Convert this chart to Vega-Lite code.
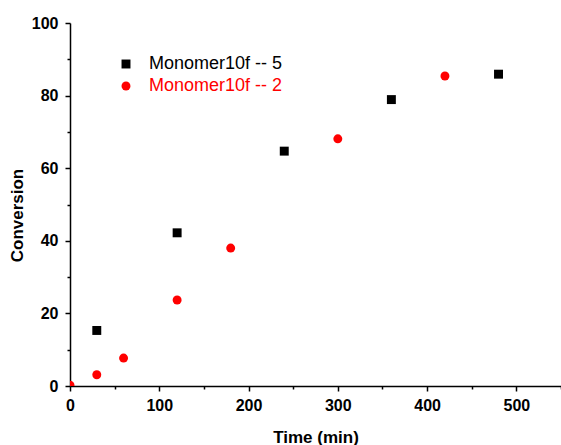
{
  "$schema": "https://vega.github.io/schema/vega-lite/v6.json",
  "width": 491,
  "height": 363,
  "autosize": "none",
  "padding": {"left": 70, "top": 23, "right": 0, "bottom": 59},
  "background": "white",
  "config": {"view": {"stroke": null}, "font": "Liberation Sans"},
  "data": {
    "values": [
      {"time": 30, "conversion": 15.3, "series": "Monomer10f -- 5"},
      {"time": 120, "conversion": 42.2, "series": "Monomer10f -- 5"},
      {"time": 240, "conversion": 64.7, "series": "Monomer10f -- 5"},
      {"time": 360, "conversion": 78.9, "series": "Monomer10f -- 5"},
      {"time": 480, "conversion": 85.9, "series": "Monomer10f -- 5"},
      {"time": 0, "conversion": 0.2, "series": "Monomer10f -- 2"},
      {"time": 30, "conversion": 3.1, "series": "Monomer10f -- 2"},
      {"time": 60, "conversion": 7.7, "series": "Monomer10f -- 2"},
      {"time": 120, "conversion": 23.7, "series": "Monomer10f -- 2"},
      {"time": 180, "conversion": 38.0, "series": "Monomer10f -- 2"},
      {"time": 300, "conversion": 68.1, "series": "Monomer10f -- 2"},
      {"time": 420, "conversion": 85.4, "series": "Monomer10f -- 2"}
    ]
  },
  "mark": {"type": "point", "filled": true, "opacity": 1, "size": 80, "clip": true},
  "encoding": {
    "x": {
      "field": "time", "type": "quantitative",
      "scale": {"domain": [0, 550], "nice": false, "zero": false},
      "axis": {
        "title": "Time (min)", "titleFontSize": 17, "titleFontWeight": "bold", "titleColor": "black",
        "titlePadding": 16,
        "values": [0, 50, 100, 150, 200, 250, 300, 350, 400, 450, 500, 550],
        "labelExpr": "datum.value % 100 === 0 ? datum.label : ''",
        "labelFontSize": 16, "labelFontWeight": "bold", "labelColor": "black", "labelPadding": 6,
        "labelFlush": false, "labelOverlap": false,
        "grid": false, "domainColor": "black", "domainWidth": 1.5,
        "tickColor": "black", "tickWidth": 1.5,
        "tickSize": {"condition": {"test": "datum.value % 100 === 0", "value": 5}, "value": 3}
      }
    },
    "y": {
      "field": "conversion", "type": "quantitative",
      "scale": {"domain": [0, 100], "nice": false},
      "axis": {
        "title": "Conversion", "titleFontSize": 17, "titleFontWeight": "bold", "titleColor": "black",
        "titlePadding": 5, "titleY": 192,
        "values": [0, 10, 20, 30, 40, 50, 60, 70, 80, 90, 100],
        "labelExpr": "datum.value % 20 === 0 ? datum.label : ''",
        "labelFontSize": 16, "labelFontWeight": "bold", "labelColor": "black", "labelPadding": 7,
        "labelFlush": false, "labelOverlap": false,
        "grid": false, "domainColor": "black", "domainWidth": 1.5,
        "tickColor": "black", "tickWidth": 1.5,
        "tickSize": {"condition": {"test": "datum.value % 20 === 0", "value": 5}, "value": 3}
      }
    },
    "color": {
      "field": "series", "type": "nominal",
      "scale": {"domain": ["Monomer10f -- 5", "Monomer10f -- 2"], "range": ["#000000", "#ff0000"]},
      "legend": {
        "title": null, "orient": "none", "legendX": 47, "legendY": 32, "padding": 0,
        "labelFontSize": 18, "labelOffset": 14, "rowPadding": 4, "symbolSize": 80,
        "labelLimit": 300,
        "labelColor": {"expr": "datum.value === 'Monomer10f -- 2' ? '#ff0000' : '#000000'"}
      }
    },
    "shape": {
      "field": "series", "type": "nominal",
      "scale": {"domain": ["Monomer10f -- 5", "Monomer10f -- 2"], "range": ["square", "circle"]},
      "legend": null
    }
  }
}
